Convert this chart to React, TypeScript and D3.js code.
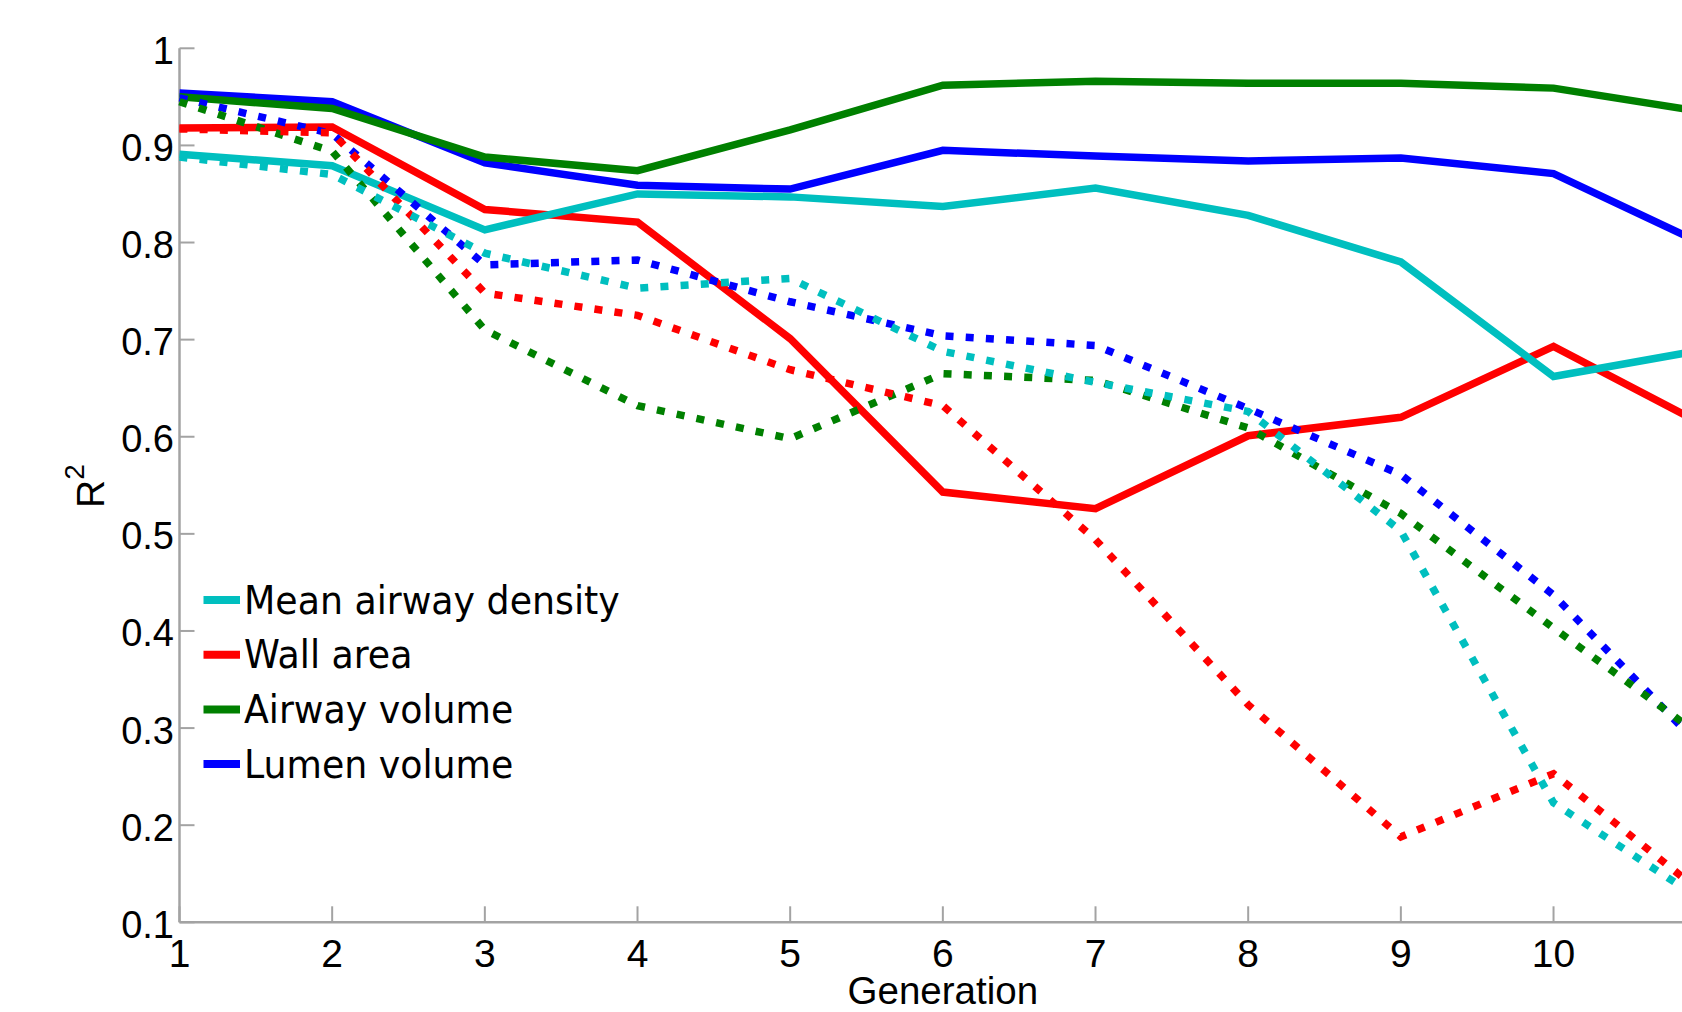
import React from "react";
import * as d3 from "d3";

const generations = [1, 2, 3, 4, 5, 6, 7, 8, 9, 10, 11];
const xTicks = [1, 2, 3, 4, 5, 6, 7, 8, 9, 10, 11];
const xTickLabels = ["1", "2", "3", "4", "5", "6", "7", "8", "9", "10"];
const yTicks = [0.1, 0.2, 0.3, 0.4, 0.5, 0.6, 0.7, 0.8, 0.9, 1];
const yTickLabels = ["0.1", "0.2", "0.3", "0.4", "0.5", "0.6", "0.7", "0.8", "0.9", "1"];

const seriesNames = ["Mean airway density", "Wall area", "Airway volume", "Lumen volume"];
const seriesColors = ["#00bfbf", "#ff0000", "#008000", "#0000ff"];

// solid lines
const densitySolid = [0.891, 0.879, 0.813, 0.85, 0.847, 0.837, 0.856, 0.828, 0.78, 0.662, 0.69];
const wallSolid = [0.918, 0.919, 0.834, 0.821, 0.701, 0.543, 0.526, 0.601, 0.62, 0.693, 0.611];
const airwaySolid = [0.95, 0.938, 0.888, 0.874, 0.916, 0.962, 0.966, 0.964, 0.964, 0.959, 0.934];
const lumenSolid = [0.954, 0.945, 0.882, 0.859, 0.855, 0.895, 0.889, 0.884, 0.887, 0.871, 0.797];

// dotted lines
const densityDotted = [0.888, 0.87, 0.789, 0.753, 0.763, 0.688, 0.656, 0.626, 0.503, 0.223, 0.12];
const wallDotted = [0.917, 0.913, 0.748, 0.725, 0.669, 0.632, 0.494, 0.324, 0.188, 0.253, 0.127];
const airwayDotted = [0.945, 0.894, 0.71, 0.632, 0.598, 0.665, 0.658, 0.609, 0.521, 0.403, 0.288];
const lumenDotted = [0.949, 0.912, 0.777, 0.782, 0.739, 0.704, 0.694, 0.629, 0.561, 0.437, 0.275];

const solidSeries = [densitySolid, wallSolid, airwaySolid, lumenSolid];
const dottedSeries = [densityDotted, wallDotted, airwayDotted, lumenDotted];

export default function App() {
  const W = 1682;
  const H = 1012;
  const x = d3.scaleLinear().domain([1, 11]).range([179.5, 179.5 + 10 * 152.67]);
  const y = d3.scaleLinear().domain([0.1, 1]).range([922.3, 48.3]);
  const line = d3
    .line<number>()
    .x((_, i) => x(generations[i]))
    .y((d) => y(d));

  const axisColor = "#a3a3a3";
  const tickFont = "'Liberation Sans', Arial, Helvetica, sans-serif";
  const drawOrder = [3, 2, 1, 0];

  return (
    <svg
      width={W}
      height={H}
      viewBox={`0 0 ${W} ${H}`}
      style={{ position: "absolute", left: 0, top: 0, background: "#fff" }}
    >
      <rect x={0} y={0} width={W} height={H} fill="#fff" />
      {/* axes */}
      <g>
        <line x1={x(1)} x2={x(11)} y1={y(0.1)} y2={y(0.1)} stroke={axisColor} strokeWidth={2.5} />
        <line x1={x(1)} x2={x(1)} y1={y(0.1)} y2={y(1)} stroke={axisColor} strokeWidth={2.5} />
        {xTicks.map((t) => (
          <line key={"xt" + t} x1={x(t)} x2={x(t)} y1={y(0.1)} y2={y(0.1) - 16} stroke={axisColor} strokeWidth={2} />
        ))}
        {yTicks.map((t) => (
          <line key={"yt" + t} x1={x(1)} x2={x(1) + 15} y1={y(t)} y2={y(t)} stroke={axisColor} strokeWidth={2} />
        ))}
        {xTickLabels.map((lab, i) => (
          <text
            key={"xl" + lab}
            x={x(xTicks[i])}
            y={967}
            textAnchor="middle"
            fontFamily={tickFont}
            fontSize={39}
            fill="#000"
          >
            {lab}
          </text>
        ))}
        {yTicks.map((t, i) => (
          <text
            key={"yl" + t}
            x={174}
            y={y(t) + 15.5}
            textAnchor="end"
            fontFamily={tickFont}
            fontSize={38}
            fill="#000"
          >
            {yTickLabels[i]}
          </text>
        ))}
        <text x={x(6)} y={1004} textAnchor="middle" fontFamily={tickFont} fontSize={38.5} fill="#000">
          Generation
        </text>
        <text transform="translate(103.5,508) rotate(-90)" fontFamily={tickFont} fontSize={39} fill="#000">
          R
          <tspan fontSize={28} dy={-20}>
            2
          </tspan>
        </text>
      </g>
      {/* solid lines */}
      <g fill="none" strokeWidth={7.5} strokeLinejoin="miter">
        {drawOrder.map((i) => (
          <path key={"s" + i} d={line(solidSeries[i]) || ""} stroke={seriesColors[i]} />
        ))}
      </g>
      {/* dotted lines */}
      <g fill="none" strokeWidth={7.5} strokeLinejoin="miter" strokeDasharray="8 12.2">
        {drawOrder.map((i) => (
          <path key={"d" + i} d={line(dottedSeries[i]) || ""} stroke={seriesColors[i]} />
        ))}
      </g>
      {/* legend */}
      <g>
        {seriesNames.map((name, i) => {
          const ly = 600 + i * 54.7;
          return (
            <g key={name}>
              <line x1={203.5} x2={240} y1={ly} y2={ly} stroke={seriesColors[i]} strokeWidth={8} />
              <text
                transform={`translate(244,${ly + 13.5}) scale(0.943,1)`}
                fontFamily="'DejaVu Sans', sans-serif"
                fontSize={38.5}
                fill="#000"
              >
                {name}
              </text>
            </g>
          );
        })}
      </g>
    </svg>
  );
}
